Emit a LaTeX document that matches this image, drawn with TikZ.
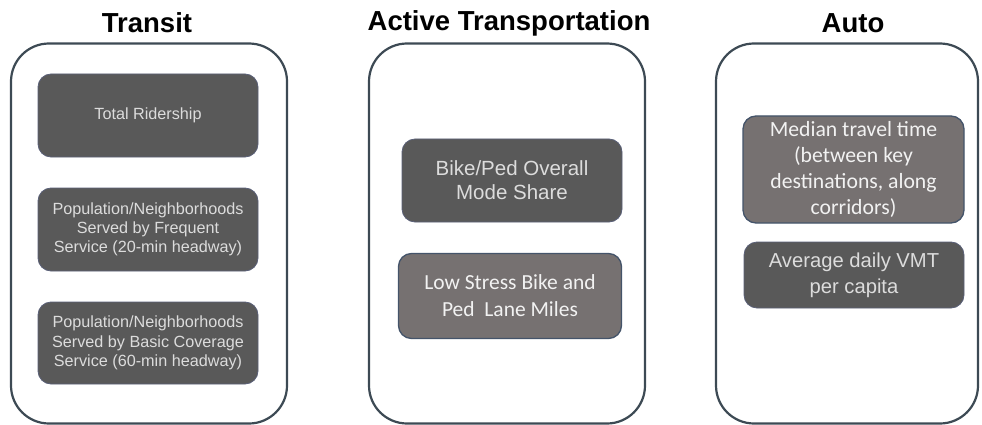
\documentclass[tikz,border=0pt]{standalone}
\usepackage{fontspec}
\setmainfont{Liberation Sans}
\newfontfamily\calib{Carlito}
\definecolor{outerline}{HTML}{3D4A54}
\definecolor{darkfill}{HTML}{595959}
\definecolor{midfill}{HTML}{767171}
\definecolor{blueline}{HTML}{44546A}
\definecolor{darkedge}{HTML}{5A6078}
\definecolor{lighttext}{HTML}{DCDCDC}
\definecolor{whitetext}{HTML}{F2F2F2}
\begin{document}
\begin{tikzpicture}[x=1pt,y=-1pt,
  outerbox/.style={draw=outerline, line width=2.2pt, rounded corners=38pt, fill=white, inner sep=0pt},
  darkbox/.style={draw=darkedge, line width=0.8pt, fill=darkfill, rounded corners=13pt, text=lighttext, align=center, inner sep=0pt},
  midbox/.style={draw=blueline, line width=1.3pt, fill=midfill, rounded corners=13pt, text=whitetext, align=center, inner sep=0pt},
  title/.style={font=\fontsize{27.5}{31}\selectfont\bfseries, text=black, inner sep=0pt}
]
\useasboundingbox (0,0) rectangle (982,425);
% outer boxes
\node[outerbox, minimum width=276pt, minimum height=380pt] (transit) at (149,233.5) {};
\node[outerbox, minimum width=276pt, minimum height=380pt] (active) at (507,233.5) {};
\node[outerbox, minimum width=262pt, minimum height=380pt] (auto) at (847,233.5) {};
% titles
\node[title] (ttransit) at (147,23) {Transit};
\node[title] (tactive) at (509,23) {Active Transportation};
\node[title] (tauto) at (853,23) {Auto};
% transit boxes
\node[darkbox, minimum width=220pt, minimum height=83pt, font=\fontsize{16.2}{19.3}\selectfont] (tr1) at (148,115.5) {Total Ridership};
\node[darkbox, minimum width=220pt, minimum height=83pt, font=\fontsize{16.2}{19.3}\selectfont] (tr2) at (148,229.5) {Population/Neighborhoods\\Served by Frequent\\Service (20-min headway)};
\node[darkbox, minimum width=220pt, minimum height=82pt, font=\fontsize{16.2}{19.3}\selectfont] (tr3) at (148,343) {Population/Neighborhoods\\Served by Basic Coverage\\Service (60-min headway)};
% active boxes
\node[darkbox, minimum width=220pt, minimum height=83pt, font=\fontsize{20.5}{24}\selectfont] (ac1) at (512,180.5) {Bike/Ped Overall\\Mode Share};
\node[midbox, minimum width=223pt, minimum height=85pt, font=\calib\fontsize{21.5}{27}\selectfont] (ac2) at (510,296) {Low Stress Bike and\\Ped\ \ Lane Miles};
% auto boxes
\node[midbox, minimum width=221pt, minimum height=107pt, font=\calib\fontsize{21.7}{26}\selectfont] (au1) at (853.5,169.5) {Median travel time\\(between key\\destinations, along\\corridors)};
\node[darkbox, minimum width=220pt, minimum height=66pt, font=\fontsize{20.2}{26}\selectfont] (au2) at (854,275) {Average daily VMT\\per capita};
\end{tikzpicture}
\end{document}
